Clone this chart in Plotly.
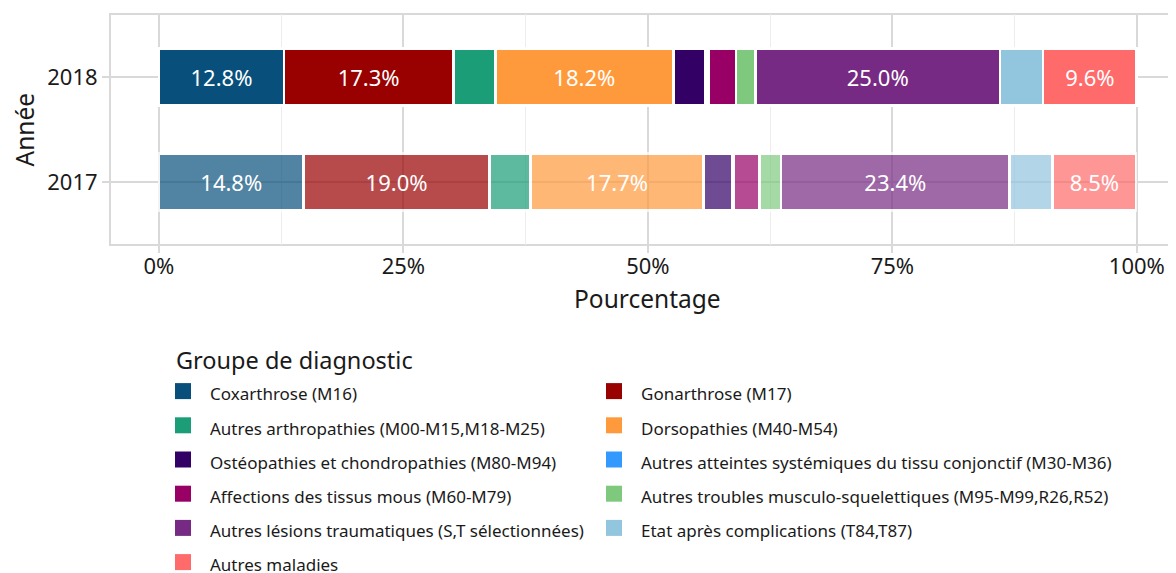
import plotly.graph_objects as go

years = ["2017", "2018"]
groups = [
    "Coxarthrose (M16)",
    "Gonarthrose (M17)",
    "Autres arthropathies (M00-M15,M18-M25)",
    "Dorsopathies (M40-M54)",
    "Ostéopathies et chondropathies (M80-M94)",
    "Autres atteintes systémiques du tissu conjonctif (M30-M36)",
    "Affections des tissus mous (M60-M79)",
    "Autres troubles musculo-squelettiques (M95-M99,R26,R52)",
    "Autres lésions traumatiques (S,T sélectionnées)",
    "Etat après complications (T84,T87)",
    "Autres maladies",
]
pct_2017 = [14.8, 19.0, 4.2, 17.7, 2.9, 0.2, 2.6, 2.2, 23.4, 4.4, 8.5]
pct_2018 = [12.8, 17.3, 4.3, 18.2, 3.3, 0.3, 2.8, 2.0, 25.0, 4.4, 9.6]
colors = [
    "#08507B", "#990000", "#1B9E77", "#FF9A3C", "#330066", "#3399FF",
    "#990066", "#7FC97F", "#772A83", "#92C5DE", "#FF6A6A",
]

FONT = "Noto Sans"
INK = "#1a1a1a"
GRID = "#d9d9d9"

# the page body has an 8px margin, so the figure is sized to what is left of the window
W, H = 1168, 565
L, T, PW, PH = 102, 6, 1066, 231

fig = go.Figure()

for name, v17, v18, col in zip(groups, pct_2017, pct_2018, colors):
    vals = [v17, v18]
    labels = [f"{v:.1f}%" if v >= 5 else "" for v in vals]
    fig.add_trace(go.Bar(
        y=years, x=vals, orientation="h", name=name, showlegend=False,
        width=0.55,
        marker=dict(color=col, opacity=[0.7, 1.0], line=dict(color="white", width=2.8)),
        text=labels, textposition="inside", insidetextanchor="middle", textangle=0,
        textfont=dict(family=FONT, size=22, color="white"),
        hoverinfo="skip",
    ))

# legend-only entries (square swatches), laid out in two columns like the original:
# even positions go to the left column, odd ones to the right
for i, (name, col) in enumerate(zip(groups, colors)):
    fig.add_trace(go.Scatter(
        x=[None], y=[None], mode="markers",
        name=f"<span style='font-size:17px'>{name}</span>",
        marker=dict(symbol="square", size=16, color=col), showlegend=True,
        legend="legend" if i % 2 == 0 else "legend2",
    ))

legend_common = dict(
    orientation="v", xref="container", yref="container", xanchor="left", yanchor="top",
    traceorder="normal", itemwidth=44, font=dict(size=24, color=INK),
    bgcolor="rgba(0,0,0,0)", maxheight=600,
)

fig.update_layout(
    barmode="stack",
    width=W, height=H,
    margin=dict(l=L, r=W - L - PW, t=T, b=H - T - PH, autoexpand=False),
    paper_bgcolor="white", plot_bgcolor="white",
    font=dict(family=FONT, color=INK),
    xaxis=dict(
        range=[-5, 104], tick0=0, dtick=25, ticksuffix="%", automargin=False,
        showgrid=True, gridcolor=GRID, gridwidth=2, zeroline=False,
        ticks="outside", ticklen=7, tickwidth=2, tickcolor=GRID,
        tickfont=dict(size=22, color=INK), ticklabelstandoff=-5,
        minor=dict(dtick=12.5, tick0=0, showgrid=True, gridcolor="#ededed", gridwidth=1.2),
    ),
    yaxis=dict(
        type="category", categoryorder="array", categoryarray=years, automargin=False,
        range=[-0.6, 1.6], showgrid=True, gridcolor=GRID, gridwidth=2,
        ticks="outside", ticklen=7, tickwidth=2, tickcolor=GRID,
        tickfont=dict(size=22, color=INK),
    ),
    shapes=[dict(type="rect", xref="paper", yref="paper", x0=0, x1=1.05, y0=0, y1=1,
                 line=dict(color=GRID, width=2), layer="below")],
    annotations=[
        dict(text="Pourcentage", x=50, xref="x", y=1 - (290 - T) / PH, yref="paper",
             xanchor="center", yanchor="middle", showarrow=False,
             font=dict(size=24.5, color=INK)),
        dict(text="Année", x=(16 - L) / PW, xref="paper", y=0.5, yref="paper",
             xanchor="center", yanchor="middle", textangle=-90, showarrow=False,
             font=dict(size=24.5, color=INK)),
        dict(text="Groupe de diagnostic", x=(166 - L) / PW, xref="paper",
             y=1 - (352 - T) / PH, yref="paper", xanchor="left", yanchor="middle",
             showarrow=False, font=dict(size=23.5, color=INK)),
    ],
    showlegend=True,
    legend=dict(legend_common, x=148 / W, y=1 - 361 / H),
    legend2=dict(legend_common, x=579 / W, y=1 - 361 / H),
)

fig.write_html("out.html")
